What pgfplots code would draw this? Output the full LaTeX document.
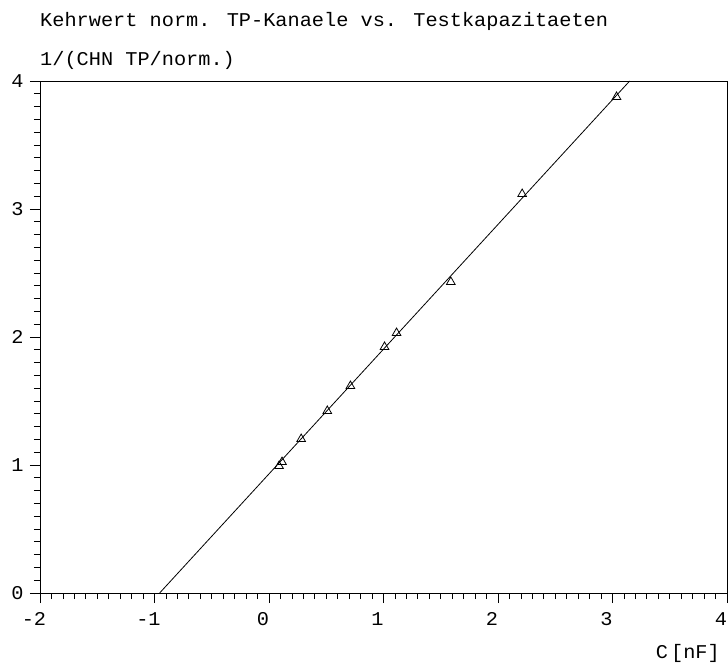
\documentclass[border=0pt]{standalone}
\usepackage{fontspec}
\usepackage{pgfplots}
\pgfplotsset{compat=1.18}
\newfontfamily\plotfont[FakeStretch=1.04]{Liberation Mono}
\begin{document}
\begin{tikzpicture}[x=1pt,y=1pt]
\useasboundingbox (0,0) rectangle (728,665);
\begin{axis}[
  at={(40pt,72pt)}, anchor=south west,
  scale only axis, width=687pt, height=512pt,
  xmin=-2, xmax=4, ymin=0, ymax=4,
  xtick={-2,-1,0,1,2,3,4}, ytick={0,1,2,3,4},
  minor tick num=9,
  tick align=outside,
  xtick pos=bottom, ytick pos=left,
  major tick length=10pt, minor tick length=6pt,
  tick style={black, line width=0.8pt},
  axis line style={black, line width=0.8pt},
  /pgf/number format/assume math mode=true,
  font=\plotfont\fontsize{19.5}{22}\selectfont,
  xticklabel style={anchor=base, yshift=-22pt, xshift=-6pt},
  yticklabel style={anchor=east, xshift=-3pt},
  clip=true,
]
\addplot[black, line width=0.8pt, no marks] coordinates {(-0.955,0) (3.15,4)};
\addplot[only marks, mark=triangle, mark size=5pt, mark options={black, line width=0.8pt, fill=white}] coordinates {
(0.088,0.992) (0.114,1.023) (0.281,1.203) (0.509,1.422) (0.711,1.617)
(1.009,1.922) (1.114,2.031) (1.588,2.430) (2.211,3.117) (3.035,3.875)};
\end{axis}
\begin{scope}[font=\plotfont\fontsize{19.5}{22}\selectfont]
\node[anchor=base west, inner sep=0pt] at (40,638) {Kehrwert norm. TP-Kanaele vs. Testkapazitaeten};
\node[anchor=base west, inner sep=0pt] at (40,599) {1/(CHN TP/norm.)};
\node[anchor=base east, inner sep=0pt] at (720,7) {C\hspace{3pt}[nF]};
\end{scope}
\end{tikzpicture}
\end{document}
